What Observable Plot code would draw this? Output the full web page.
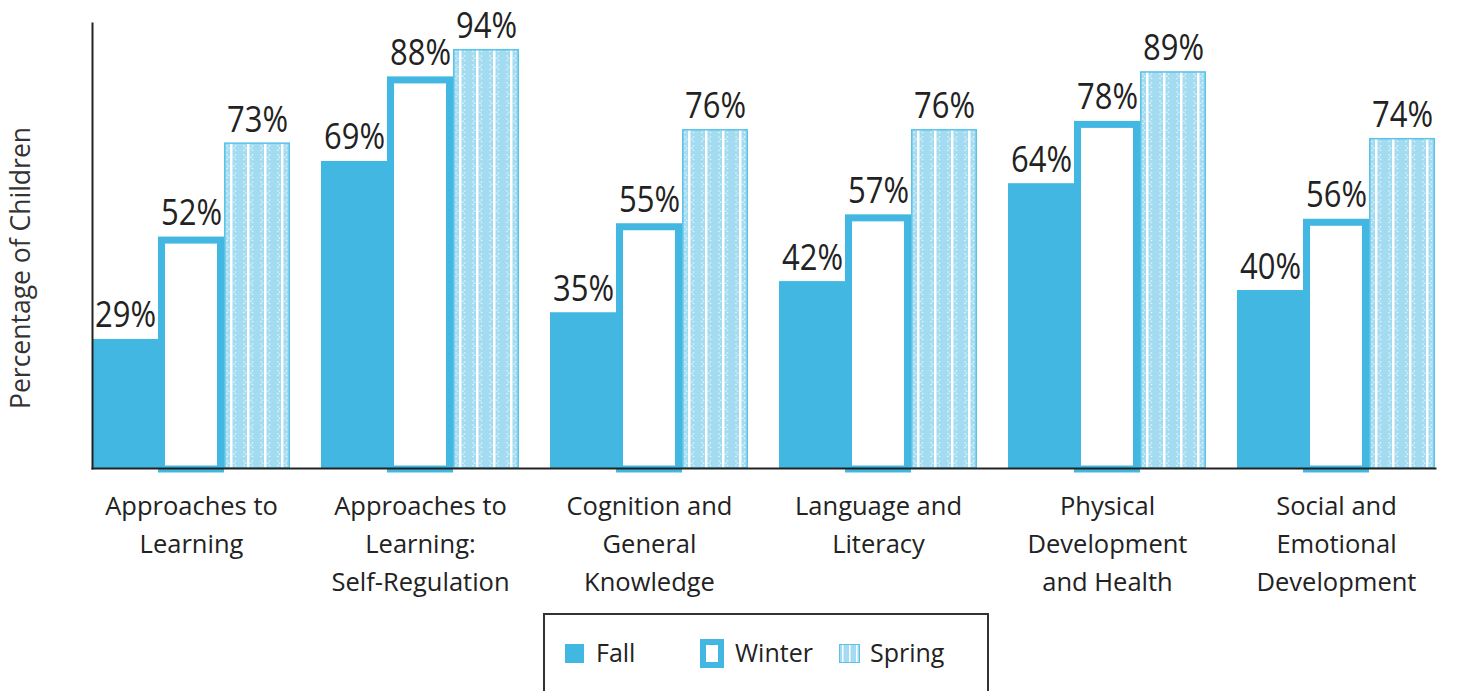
<!DOCTYPE html>
<html><head><meta charset="utf-8">
<script src="https://cdn.jsdelivr.net/npm/d3@7"></script>
<script src="https://cdn.jsdelivr.net/npm/@observablehq/plot@0.6"></script>
<style>
body{margin:0;background:#fff;overflow:hidden;font-family:"Open Sans",sans-serif;color:#222;}
#wrap{position:relative;width:1463px;height:691px;overflow:hidden;}
#legend{position:absolute;left:543px;top:613px;width:446px;height:110px;border:2px solid #333;box-sizing:border-box;}
.item{position:absolute;font-size:25px;line-height:1;}
.sw{position:absolute;}
</style></head>
<body><div id="wrap"><div id="chart"></div>
<div id="legend">
  <svg class="sw" style="left:20px;top:29px" width="19" height="19"><rect width="19" height="19" fill="#42B7E1"/></svg>
  <div class="item" style="left:51px;top:25px">Fall</div>
  <svg class="sw" style="left:155px;top:24px" width="24" height="29"><rect x="3" y="3" width="18" height="23" fill="#fff" stroke="#42B7E1" stroke-width="6"/></svg>
  <div class="item" style="left:190px;top:25px">Winter</div>
  <svg class="sw" style="left:294px;top:29px" width="21" height="19">
    <defs><pattern id="legPat" patternUnits="userSpaceOnUse" width="7" height="6"><rect width="7" height="6" fill="#A3DBF1"/><rect x="3" width="1.5" height="6" fill="#fff"/></pattern></defs>
    <rect x="0.5" y="0.5" width="20" height="18" fill="url(#legPat)" stroke="#5BC2E8"/></svg>
  <div class="item" style="left:325px;top:25px">Spring</div>
</div>
</div>
<script>
const categories = [
  "Approaches to Learning",
  "Approaches to Learning: Self-Regulation",
  "Cognition and General Knowledge",
  "Language and Literacy",
  "Physical Development and Health",
  "Social and Emotional Development"
];
const tickLabels = [
  "Approaches to\nLearning",
  "Approaches to\nLearning:\nSelf-Regulation",
  "Cognition and\nGeneral\nKnowledge",
  "Language and\nLiteracy",
  "Physical\nDevelopment\nand Health",
  "Social and\nEmotional\nDevelopment"
];
const seasons = ["Fall", "Winter", "Spring"];
const fall   = [29, 69, 35, 42, 64, 40];
const winter = [52, 88, 55, 57, 78, 56];
const spring = [73, 94, 76, 76, 89, 74];
const yTitle = "Percentage of Children";

const rows = categories.flatMap((c, i) => [
  {category: c, season: "Fall", value: fall[i]},
  {category: c, season: "Winter", value: winter[i]},
  {category: c, season: "Spring", value: spring[i]}
]);
const blue = "#42B7E1";

const chart = Plot.plot({
  width: 1463,
  height: 605,
  marginLeft: 73,
  marginRight: 8,
  marginTop: 23,
  marginBottom: 137,
  style: {fontFamily: "'Open Sans',sans-serif", color: "#222", background: "#fff", overflow: "visible"},
  fx: {domain: categories, paddingInner: 0.135, paddingOuter: 0.074, label: null},
  x: {domain: seasons, padding: 0, axis: null},
  y: {domain: [0, 100], axis: null},
  marks: [
    Plot.barY(rows.filter(d => d.season === "Fall"), {fx: "category", x: "season", y: "value", fill: blue}),
    Plot.barY(rows.filter(d => d.season === "Winter"), {fx: "category", x: "season", y: "value", fill: "#fff", stroke: blue, strokeWidth: 7, insetLeft: 3.5, insetRight: 3.5, insetTop: 3.5, insetBottom: -1}),
    Plot.barY(rows.filter(d => d.season === "Spring"), {fx: "category", x: "season", y: "value", fill: "url(#springPat)", stroke: "#5BC2E8", strokeWidth: 1.5, insetLeft: 0.75, insetRight: 0.75}),
    Plot.text(rows, {fx: "category", x: "season", y: "value", text: d => d.value + "%", lineAnchor: "bottom", dy: -12, fontSize: 36, fill: "#222", className: "val"}),
    Plot.frame({anchor: "bottom", facet: "super", stroke: "#222", strokeWidth: 2}),
    Plot.frame({anchor: "left", facet: "super", stroke: "#222", strokeWidth: 2}),
    Plot.text([yTitle], {facet: "super", frameAnchor: "left", text: d => d, rotate: -90, textAnchor: "middle", dx: -71, dy: 22, fontSize: 26.5, fill: "#333", className: "ytitle"}),
    Plot.axisFx({anchor: "bottom", tickSize: 0, tickPadding: 20, fontSize: 25.5, lineHeight: 1.49, label: null, tickFormat: c => tickLabels[categories.indexOf(c)], fill: "#222"})
  ]
});

const defs = d3.select(chart).insert("defs", ":first-child");
const pat = defs.append("pattern").attr("id", "springPat").attr("patternUnits", "userSpaceOnUse").attr("width", 17).attr("height", 9);
pat.append("rect").attr("width", 17).attr("height", 9).attr("fill", "#A3DBF1");
pat.append("rect").attr("x", 7).attr("width", 2.5).attr("height", 9).attr("fill", "#fff");
[[4, 2], [12.5, 2], [4, 6.5], [12.5, 6.5], [5.5, 4.2], [11, 4.2]].forEach(([cx, cy]) =>
  pat.append("circle").attr("cx", cx).attr("cy", cy).attr("r", 0.8).attr("fill", "#fff").attr("opacity", 0.75));

// condense the value labels horizontally, as in the reference typeface
d3.select(chart).selectAll(".val text").attr("textLength", 61).attr("lengthAdjust", "spacingAndGlyphs");

document.getElementById("chart").append(chart);
</script>
</body></html>
